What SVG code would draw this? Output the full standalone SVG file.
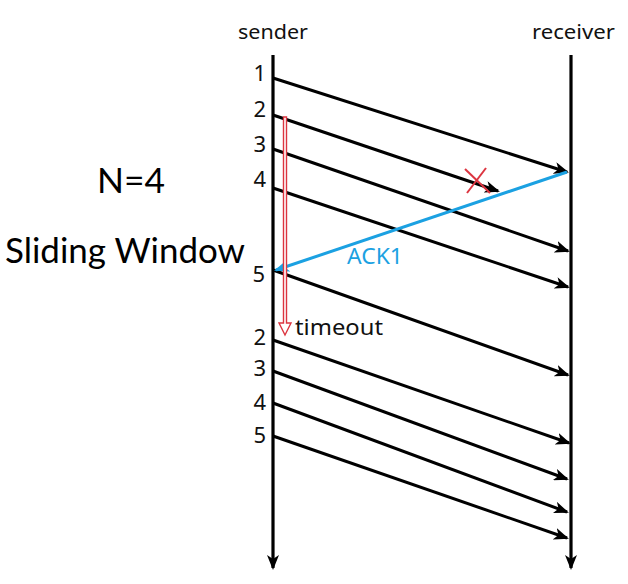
<svg xmlns="http://www.w3.org/2000/svg" width="628" height="584" viewBox="0 0 628 584">
<style>
.lbl{font-family:"Noto Sans","Open Sans","DejaVu Sans",sans-serif;fill:#111;}
.num{font-size:22px;text-anchor:end;}
.msg{stroke:#000;stroke-width:3;fill:none;marker-end:url(#ah);}
.axis{stroke:#000;stroke-width:3.2;fill:none;marker-end:url(#ah);}
.big{font-family:Lato,"Noto Sans",sans-serif;fill:#000;}
</style>
<defs>
<marker id="ah" markerUnits="userSpaceOnUse" markerWidth="16" markerHeight="12" refX="13" refY="6" orient="auto" viewBox="0 0 16 12">
<path d="M0,0 L15,6 L0,12 L4,6 z" fill="#000"/>
</marker>
<marker id="ahb" markerUnits="userSpaceOnUse" markerWidth="16" markerHeight="12" refX="13" refY="6" orient="auto" viewBox="0 0 16 12">
<path d="M0,0 L15,6 L0,12 L4,6 z" fill="#1ba1e2"/>
</marker>
</defs>
<rect width="628" height="584" fill="#fff"/>
<g id="sender">
<text class="lbl" x="238" y="39" font-size="20" textLength="70" lengthAdjust="spacingAndGlyphs">sender</text>
<line class="axis" x1="273" y1="55" x2="273" y2="568"/>
</g>
<g id="receiver">
<text class="lbl" x="532" y="39" font-size="20" textLength="83" lengthAdjust="spacingAndGlyphs">receiver</text>
<line class="axis" x1="571" y1="55" x2="571" y2="568"/>
</g>
<g id="labels">
<text class="lbl num" x="266" y="81">1</text>
<text class="lbl num" x="266" y="117">2</text>
<text class="lbl num" x="266" y="152">3</text>
<text class="lbl num" x="266" y="187">4</text>
<text class="lbl num" x="265" y="282">5</text>
<text class="lbl num" x="266" y="345">2</text>
<text class="lbl num" x="266" y="376">3</text>
<text class="lbl num" x="266" y="410">4</text>
<text class="lbl num" x="266" y="443">5</text>
</g>
<g id="title">
<text class="big" x="97" y="193" font-size="34" textLength="68" lengthAdjust="spacingAndGlyphs">N=4</text>
<text class="big" x="5" y="263" font-size="34" textLength="240" lengthAdjust="spacingAndGlyphs">Sliding Window</text>
</g>
<g id="connectors">
<line class="msg" x1="273" y1="78" x2="567" y2="172"/>
<line class="msg" x1="273" y1="115" x2="498" y2="191"/>
<line class="msg" x1="273" y1="149" x2="568" y2="251"/>
<line class="msg" x1="273" y1="188" x2="568" y2="287"/>
<line class="msg" x1="273" y1="270" x2="568" y2="375"/>
<line class="msg" x1="273" y1="340" x2="569" y2="443"/>
<line class="msg" x1="273" y1="371" x2="567" y2="479"/>
<line class="msg" x1="273" y1="403" x2="567" y2="512"/>
<line class="msg" x1="273" y1="436" x2="567" y2="538"/>
<line x1="567" y1="172" x2="276" y2="270" stroke="#1ba1e2" stroke-width="3" marker-end="url(#ahb)"/>
</g>
<g id="lost">
<line x1="465" y1="169" x2="490" y2="193" stroke="#dc3540" stroke-width="2"/>
<line x1="486" y1="168" x2="467" y2="193" stroke="#dc3540" stroke-width="2"/>
</g>
<g id="ack1">
<text class="lbl" x="347" y="264" font-size="22" textLength="56" lengthAdjust="spacingAndGlyphs" style="fill:#1ba1e2">ACK1</text>
</g>
<g id="timeout">
<path d="M283.5,117 L286.5,117 L286.5,323 L291,323 L285,335 L279,323 L283.5,323 z" fill="#fff" stroke="#dc3540" stroke-width="1.4" stroke-linejoin="miter"/>
<text class="lbl" x="295" y="335" font-size="22" textLength="88" lengthAdjust="spacingAndGlyphs">timeout</text>
</g>
</svg>
